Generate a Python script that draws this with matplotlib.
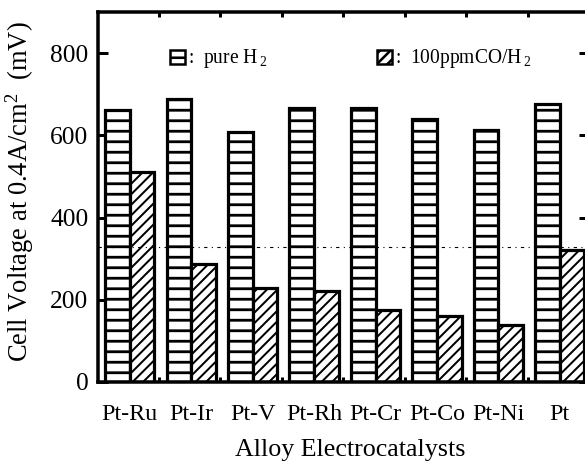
import matplotlib
matplotlib.use("Agg")
import matplotlib.pyplot as plt
import numpy as np
from matplotlib.patches import Patch

catalysts = ["Pt-Ru", "Pt-Ir", "Pt-V", "Pt-Rh", "Pt-Cr", "Pt-Co", "Pt-Ni", "Pt"]
pure_h2 = [662, 688, 609, 667, 666, 640, 612, 676]
co_h2 = [511, 288, 229, 221, 175, 161, 139, 320]
ref_level = 329
yticks = [0, 200, 400, 600, 800]

DPI = 63


def pt(px):
    # pixel size at this dpi -> points
    return px * 72.0 / DPI


def plot_bars():
    plt.rcParams['font.family'] = ['Liberation Serif', 'DejaVu Serif']
    plt.rcParams['mathtext.fontset'] = 'custom'
    plt.rcParams['mathtext.rm'] = 'Liberation Serif'
    plt.rcParams['mathtext.it'] = 'Liberation Serif:italic'
    plt.rcParams['hatch.linewidth'] = pt(2.6)

    fig = plt.figure(figsize=(585 / DPI, 464 / DPI), dpi=DPI)
    ax = fig.add_axes([97.5 / 585, 82 / 464, 491.5 / 585, 370 / 464])

    x = np.arange(len(catalysts))
    w = 0.4
    b1 = ax.bar(x + 0.325, pure_h2, w, color="white", edgecolor="black",
                linewidth=pt(3.2), hatch="-", zorder=2)
    b2 = ax.bar(x + 0.725, co_h2, w, color="white", edgecolor="black",
                linewidth=pt(3.2), hatch="//", zorder=2)
    for p in b1:
        if hasattr(p, "set_hatch_linewidth"):
            p.set_hatch_linewidth(pt(2.8))
    for p in b2:
        if hasattr(p, "set_hatch_linewidth"):
            p.set_hatch_linewidth(pt(2.0))

    # reference line (pure Pt in CO)
    ax.axhline(ref_level, color="black", linewidth=pt(1.1),
               linestyle=(0, (3, 4, 1, 4)), zorder=3)

    ax.set_xlim(0, len(catalysts))
    ax.set_ylim(0, 900)
    ax.set_yticks(yticks)
    ax.set_yticklabels([str(v) for v in yticks])

    # group boundaries as major ticks, names on minor ticks at pair centre
    ax.set_xticks(np.arange(1, len(catalysts)))
    ax.set_xticklabels([])
    ax.set_xticks(x + 0.525, minor=True)
    ax.set_xticklabels(catalysts, minor=True)

    ax.tick_params(axis="y", which="major", direction="in", left=True, right=True,
                   length=pt(10), width=pt(3), labelsize=pt(25.5), pad=pt(9))
    ax.tick_params(axis="x", which="major", direction="in", top=True, bottom=True,
                   length=pt(5), width=pt(3))
    ax.tick_params(axis="x", which="minor", length=0, labelsize=pt(24), pad=pt(22))

    for s in ax.spines.values():
        s.set_linewidth(pt(3.5))

    ax.set_xlabel("Alloy Electrocatalysts", fontsize=pt(26))
    ax.xaxis.set_label_coords(0.515, -0.155)
    ax.set_ylabel("Cell Voltage at 0.4A/cm$^2$  (mV)", fontsize=pt(26.5))
    ax.yaxis.set_label_coords(-0.126, 0.515)

    handles = [Patch(facecolor="white", edgecolor="black", linewidth=pt(2.5), hatch="-"),
               Patch(facecolor="white", edgecolor="black", linewidth=pt(2.5), hatch="//")]
    labels = [":  pure H$\\,_2$", ":  100ppmCO/H$\\,_2$"]
    ax.legend(handles, labels, ncol=2, loc="center left", bbox_to_anchor=(0.147, 0.873),
              frameon=False, fontsize=pt(19.5), handlelength=0.8, handleheight=0.75,
              handletextpad=0.15, columnspacing=5.6, borderpad=0, borderaxespad=0)

    fig.savefig("out.png", dpi=DPI)


def main():
    plot_bars()


if __name__ == "__main__":
    main()
